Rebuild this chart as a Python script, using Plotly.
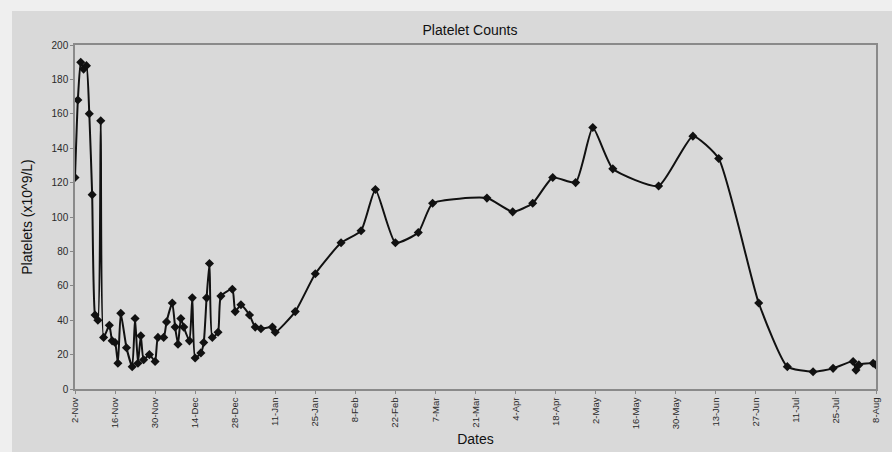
import plotly.graph_objects as go

dates = [
    "2003-11-02", "2003-11-03", "2003-11-04", "2003-11-05", "2003-11-06", "2003-11-07",
    "2003-11-08", "2003-11-09", "2003-11-10", "2003-11-11", "2003-11-12", "2003-11-14",
    "2003-11-15", "2003-11-16", "2003-11-17", "2003-11-18", "2003-11-20", "2003-11-22",
    "2003-11-23", "2003-11-24", "2003-11-25", "2003-11-26", "2003-11-28", "2003-11-30",
    "2003-12-01", "2003-12-03", "2003-12-04", "2003-12-06", "2003-12-07", "2003-12-08",
    "2003-12-09", "2003-12-10", "2003-12-12", "2003-12-13", "2003-12-14", "2003-12-16",
    "2003-12-17", "2003-12-18", "2003-12-19", "2003-12-20", "2003-12-22", "2003-12-23",
    "2003-12-27", "2003-12-28", "2003-12-30", "2004-01-02", "2004-01-04", "2004-01-06",
    "2004-01-10", "2004-01-11", "2004-01-18", "2004-01-25", "2004-02-03", "2004-02-10",
    "2004-02-15", "2004-02-22", "2004-03-01", "2004-03-06", "2004-03-25", "2004-04-03",
    "2004-04-10", "2004-04-17", "2004-04-25", "2004-05-01", "2004-05-08", "2004-05-24",
    "2004-06-05", "2004-06-14", "2004-06-28", "2004-07-08", "2004-07-17", "2004-07-24",
    "2004-07-31", "2004-08-01", "2004-08-02", "2004-08-07", "2004-08-08",
]
platelets = [
    123, 168, 190, 186, 188, 160,
    113, 43, 40, 156, 30, 37,
    28, 27, 15, 44, 24, 13,
    41, 15, 31, 17, 20, 16,
    30, 30, 39, 50, 36, 26,
    41, 36, 28, 53, 18, 21,
    27, 53, 73, 30, 33, 54,
    58, 45, 49, 43, 36, 35,
    36, 33, 45, 67, 85, 92,
    116, 85, 91, 108, 111, 103,
    108, 123, 120, 152, 128, 118,
    147, 134, 50, 13, 10, 12,
    16, 11, 14, 15, 14,
]

title_text = "Platelet Counts"
x_title = "Dates"
y_title = "Platelets (x10^9/L)"
x_start, x_end = "2003-11-02", "2004-08-08"
y_ticks = [0, 20, 40, 60, 80, 100, 120, 140, 160, 180, 200]

BG = "#d9d9d9"
OFF_L, OFF_T = 12, 11          # light scan margin on the page
W, H = 892 - OFF_L, 452 - OFF_T
ml, mr, mt, mb = 63, 16, 34, 63

fig = go.Figure()
fig.add_trace(go.Scatter(
    x=dates, y=platelets, mode="lines+markers",
    line=dict(color="#111111", width=2, shape="spline", smoothing=0.5),
    marker=dict(symbol="diamond", size=7, color="#111111"),
    showlegend=False,
))

fig.update_layout(
    width=W, height=H,
    margin=dict(l=ml, r=mr, t=mt, b=mb),
    paper_bgcolor=BG, plot_bgcolor=BG,
    font=dict(family="Liberation Sans, Arial, sans-serif", color="#111111"),
    title=dict(text=title_text, x=458 / W, xanchor="center",
               y=1 - 19 / H, yanchor="middle",
               font=dict(size=14, color="#111111")),
    xaxis=dict(
        type="date", range=[x_start, x_end], automargin=False,
        tick0=x_start, dtick=14 * 86400000, tickformat="%-d-%b",
        tickangle=-90, tickfont=dict(size=9.5, color="#2a2a2a"),
        ticks="outside", ticklen=3, tickcolor="#888888",
        showgrid=False, zeroline=False,
        showline=True, linecolor="#8a8a8a", linewidth=1.5, mirror=True,
        title=dict(text=x_title, font=dict(size=14, color="#111111"), standoff=6),
    ),
    yaxis=dict(
        range=[0, 200], tickvals=y_ticks, automargin=False,
        tickfont=dict(size=10, color="#2a2a2a"),
        ticks="outside", ticklen=3, tickcolor="#888888",
        showgrid=False, zeroline=False,
        showline=True, linecolor="#8a8a8a", linewidth=1.5, mirror=True,
        title=dict(text=y_title, font=dict(size=14, color="#111111"), standoff=16),
    ),
)

post = ("document.body.style.margin='%dpx 0 0 %dpx';"
        "document.body.style.padding='0';"
        "document.body.style.background='#efefef';"
        "document.body.style.overflow='hidden';") % (OFF_T, OFF_L)
fig.write_html("out.html", post_script=post)
